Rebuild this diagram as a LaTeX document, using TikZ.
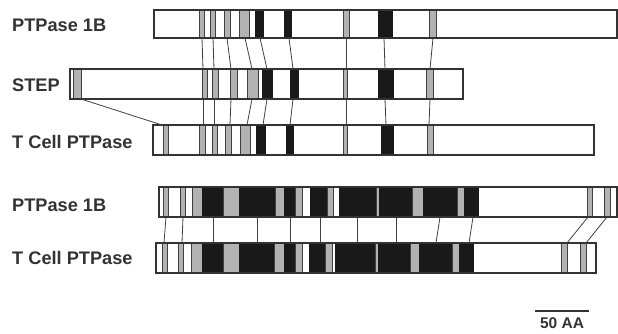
\documentclass[tikz,border=0pt]{standalone}
\usepackage{fontspec}
\setmainfont{Liberation Sans}
\usetikzlibrary{fit}
\begin{document}
\begin{tikzpicture}[x=1pt,y=-1pt,
  outl/.style={draw=black!80,line width=1.3pt},
  bandg/.style={fill=black!30,draw=black!75,line width=0.7pt},
  bandk/.style={fill=black!90,draw=black!90,line width=0.7pt},
  conn/.style={draw=black!75,line width=0.8pt},
  lab/.style={anchor=west,inner sep=0pt,font=\fontsize{18.2}{18}\selectfont\bfseries,text=black!80}]
\useasboundingbox[fill=white] (0,0) rectangle (618,334);
\newcommand{\mybar}[6]{%
  \fill[white] (#2,#3) rectangle (#4,#5);
  \foreach \a/\b/\c in {#6}{%
    \if g\c\path[bandg] (\a,#3) rectangle (\b,#5);\else\path[bandk] (\a,#3) rectangle (\b,#5);\fi}
  \node[outl,inner sep=0pt,fit={(#2,#3) (#4,#5)}] (#1) {};}
% top group
\mybar{p1}{154}{10}{617}{38}{199/204/g,210/215/g,224/230/g,239/249/g,255/263/k,284/291/k,343/349/g,378/392/k,429/436/g}
\mybar{st}{70}{69}{463}{99}{73/81/g,202/207/g,212/218/g,230/237/g,247/258/g,262/272/k,290/298/k,343/347/g,378/393/k,426/433/g}
\mybar{tc}{153}{125}{594}{155}{163/168/g,199/205/g,212/217/g,225/231/g,240/250/g,256/265/k,286/293/k,343/347/g,381/393/k,427/433/g}
% bottom group
\mybar{pb}{159}{187}{617}{217}{163/168/g,180/185/g,192/202/g,202/223/k,223/239/g,239/275/k,275/284/g,284/295/k,295/302/g,310/313/k,313/327/k,327/333/g,339/376/k,376/379/g,379/412/k,412/423/g,423/457/k,457/464/g,464/478/k,587/592/g,604/610/g}
\mybar{tb}{156}{243}{596}{273}{162/167/g,178/183/g,191/202/g,202/223/k,223/239/g,239/274/k,274/284/g,284/295/k,295/302/g,309/312/k,312/325/k,325/332/g,335/375/k,375/378/g,378/410/k,410/419/g,419/452/k,452/459/g,459/473/k,561/567/g,580/586/g}
% connectors top
\foreach \a/\b in {202/203,213/214,227/231,245/252,260/267,289/293,346/346,384/385,433/430}
  \draw[conn] (\a,38) -- (\b,69);
\foreach \a/\b in {203/203,214/214,231/230,252/247,267/263,293/290,346/346,385/386,430/429}
  \draw[conn] (\a,99) -- (\b,125);
\draw[conn] (81,99) -- (162,125);
% connectors bottom
\foreach \a/\b in {166/164,183/182,213/213,257/257,290/290,320/320,357/357,396/396,440/436,473/469,588/567,607/586}
  \draw[conn] (\a,217) -- (\b,243);
% labels
\node[lab] (l1) at (12,25) {PTPase 1B};
\node[lab] (l2) at (12,85) {STEP};
\node[lab] (l3) at (12,142) {T Cell PTPase};
\node[lab] (l4) at (12,205) {PTPase 1B};
\node[lab] (l5) at (12,258) {T Cell PTPase};
% scale bar
\coordinate (s1) at (535,311);
\coordinate (s2) at (589,311);
\draw[draw=black!80,line width=1.2pt] (s1) -- (s2);
\node[inner sep=0pt,font=\fontsize{15.5}{15}\selectfont\bfseries,text=black!80] (sc) at (562,323.5) {50 AA};
\end{tikzpicture}
\end{document}
